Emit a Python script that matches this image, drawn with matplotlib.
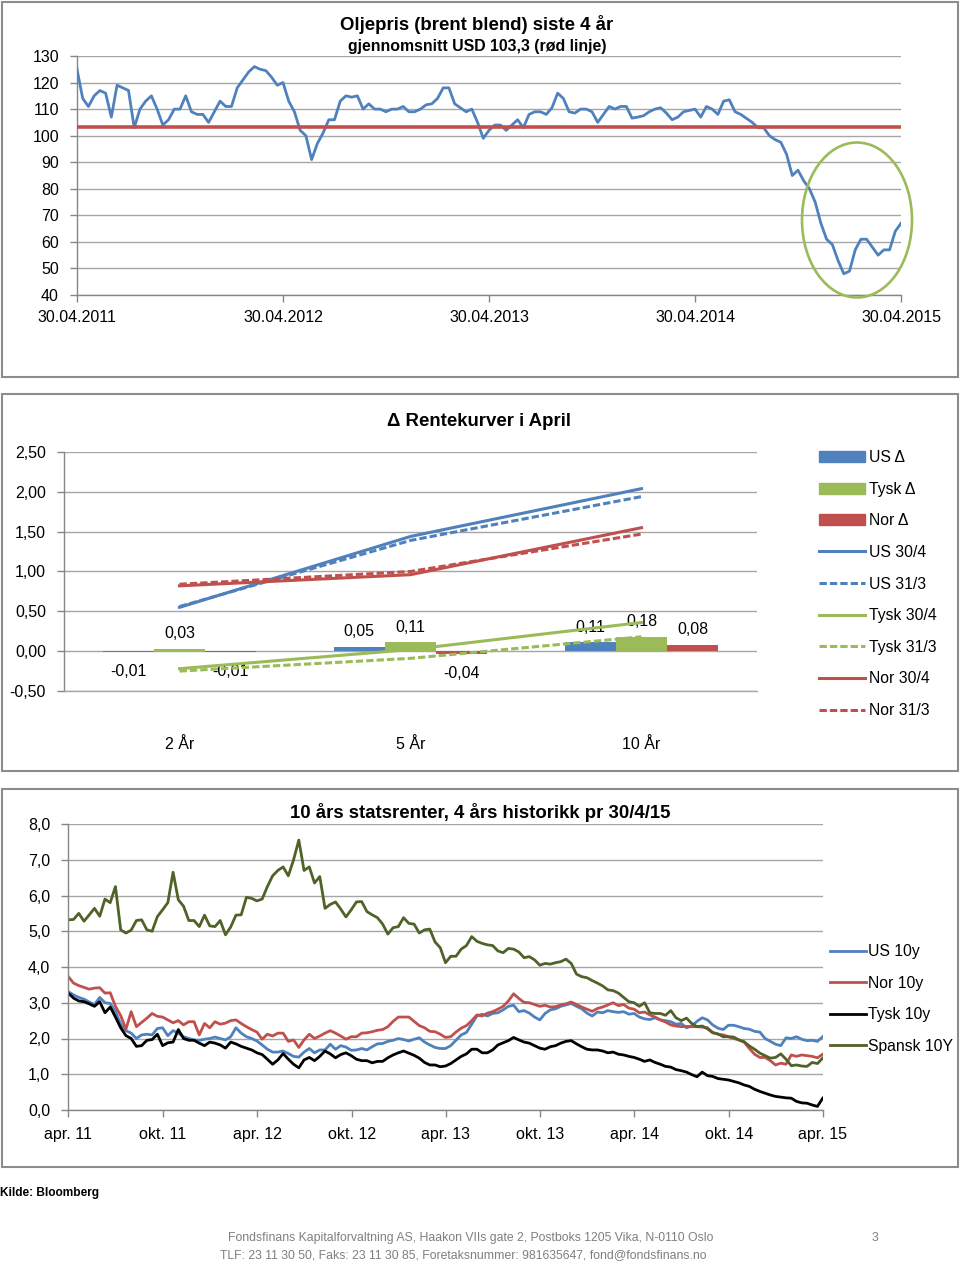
import matplotlib

matplotlib.use("Agg")
import matplotlib.pyplot as plt
import numpy as np
import pandas as pd
from matplotlib.lines import Line2D
from matplotlib.patches import Ellipse, Patch, Rectangle
from matplotlib.ticker import FuncFormatter

plt.rcParams["font.family"] = ["Liberation Sans", "DejaVu Sans"]

W, H = 960, 1265
BLUE = "#4F81BD"
RED = "#C0504D"
GREEN = "#9BBB59"
OLIVE = "#4F6228"
GRID = "#a6a6a6"
AXIS = "#868686"

START, END = "2011-04-30", "2015-04-30"

# --- oljepris (brent), ca. hver 10. dag ---
OIL = [
    125, 114, 111, 115, 117, 116, 107, 119, 118, 117, 103, 110, 113, 115, 110, 104, 106, 110,
    110, 115, 109, 108, 108, 105, 109, 113, 111, 111, 118, 121, 124, 126, 125, 124.5, 122, 119,
    120, 113, 109, 102, 100, 91, 97, 101, 106, 106, 113, 115, 114.5, 115, 110, 112, 110, 110,
    109, 110, 110, 111, 109, 109, 110, 111.6, 112, 114, 118, 118, 112, 110.5, 109, 110, 105, 99,
    102, 104, 104, 102, 104, 106, 103, 108, 109, 109, 108, 110.5, 116, 114, 109, 108.5, 110, 110,
    109, 105, 108, 111, 110, 111, 111, 106.6, 107, 107.5, 109, 110, 110.5, 108.5, 106, 107, 109, 109.5,
    110, 107, 111, 110, 108, 113, 113.5, 109, 108, 106.5, 105, 103, 103, 100, 98.5, 97.5, 93, 85,
    87, 83, 80, 75, 67, 61, 59, 53, 48, 49, 57, 61, 61, 58, 55, 57, 57, 64, 67,
]
OIL_AVG = 103.3
OIL_TICKS = ["2011-04-30", "2012-04-30", "2013-04-30", "2014-04-30", "2015-04-30"]

# --- rentekurver ---
TENORS = ["2 År", "5 År", "10 År"]
US_DELTA = [-0.01, 0.05, 0.11]
TYSK_DELTA = [0.03, 0.11, 0.18]
NOR_DELTA = [-0.01, -0.04, 0.08]
US_3004 = [0.55, 1.44, 2.04]
US_3103 = [0.56, 1.39, 1.94]
TYSK_3004 = [-0.22, 0.02, 0.36]
TYSK_3103 = [-0.25, -0.09, 0.18]
NOR_3004 = [0.82, 0.96, 1.55]
NOR_3103 = [0.84, 1.00, 1.47]

# --- 10 års statsrenter ---
RATE_TICKS = ["apr. 11", "okt. 11", "apr. 12", "okt. 12", "apr. 13",
              "okt. 13", "apr. 14", "okt. 14", "apr. 15"]
US10 = [
    3.31, 3.22, 3.15, 3.1, 3.02, 2.95, 3.15, 3.0, 2.98, 2.75, 2.4, 2.22, 2.15, 2.0, 2.1, 2.12,
    2.1, 2.28, 2.3, 2.08, 2.22, 2.15, 2.05, 2.0, 1.96, 1.95, 1.98, 2.0, 2.04, 2.0, 1.96, 2.05,
    2.3, 2.15, 2.05, 2.0, 1.93,
    1.82, 1.7, 1.62, 1.62, 1.65, 1.58, 1.5, 1.48, 1.62, 1.72, 1.6, 1.68, 1.68, 1.84, 1.7, 1.8,
    1.76, 1.67, 1.68, 1.72, 1.68, 1.77, 1.85, 1.86, 1.92, 1.95, 2.0, 1.97, 1.93, 1.98, 2.02,
    1.9, 1.82, 1.75, 1.72,
    1.72, 1.8, 1.95, 2.1, 2.17, 2.4, 2.63, 2.68, 2.63, 2.7, 2.72, 2.8, 2.9, 2.93, 2.75, 2.78,
    2.71, 2.6, 2.52, 2.7, 2.8, 2.83, 2.9, 2.94, 2.98, 2.9, 2.83, 2.71, 2.63, 2.74, 2.72, 2.78,
    2.75, 2.73, 2.75, 2.68,
    2.7, 2.6, 2.55, 2.53, 2.58, 2.52, 2.5, 2.47, 2.4, 2.42, 2.3, 2.35, 2.48, 2.58, 2.52, 2.38,
    2.29, 2.25, 2.37, 2.37, 2.33, 2.28, 2.26, 2.2, 2.18, 2.0, 1.92, 1.84, 1.8, 2.02, 2.0, 2.05,
    1.98, 1.94, 1.95, 1.92, 2.05,
]
NOR10 = [
    3.73, 3.55, 3.48, 3.43, 3.38, 3.41, 3.42, 3.27, 3.28, 2.9, 2.64, 2.26, 2.75, 2.33, 2.45, 2.57,
    2.7, 2.62, 2.6, 2.52, 2.44, 2.5, 2.38, 2.47, 2.47, 2.1, 2.42, 2.3, 2.47, 2.4, 2.43, 2.5,
    2.52, 2.42, 2.33, 2.25, 2.18,
    1.98, 2.12, 2.07, 2.15, 2.15, 1.92, 1.96, 1.75, 1.96, 2.12, 2.0, 2.07, 2.15, 2.22, 2.15, 2.07,
    1.98, 2.05, 2.05, 2.15, 2.16, 2.19, 2.23, 2.25, 2.33, 2.48, 2.6, 2.6, 2.6, 2.48, 2.36,
    2.3, 2.2, 2.19, 2.12,
    2.03, 2.05, 2.18, 2.29, 2.36, 2.5, 2.66, 2.63, 2.71, 2.75, 2.82, 2.9, 3.05, 3.25, 3.12, 3.01,
    3.0, 2.95, 2.9, 2.93, 2.88, 2.89, 2.94, 2.97, 3.02, 2.95, 2.88, 2.82, 2.76, 2.84, 2.88, 2.94,
    3.0, 2.92, 2.95, 2.85,
    2.82, 2.72, 2.74, 2.66, 2.6, 2.52, 2.46, 2.38, 2.35, 2.33, 2.34, 2.33, 2.33, 2.32, 2.3, 2.17,
    2.12, 2.1, 2.05, 2.0, 1.96, 1.9, 1.72, 1.56, 1.47, 1.47, 1.38, 1.26, 1.31, 1.28, 1.54, 1.5,
    1.54, 1.52, 1.5, 1.46, 1.56,
]
TYSK10 = [
    3.27, 3.13, 3.05, 3.03, 2.97, 2.9, 3.03, 2.72, 2.88, 2.6, 2.3, 2.08, 2.0, 1.78, 1.8, 1.95,
    1.97, 2.12, 1.8, 1.88, 1.9, 2.25, 2.0, 1.95, 1.95, 1.87, 1.8, 1.9, 1.87, 1.82, 1.73, 1.9,
    1.85, 1.78, 1.73, 1.68, 1.6,
    1.55, 1.42, 1.28, 1.4, 1.58, 1.42, 1.28, 1.18, 1.4, 1.47, 1.38, 1.5, 1.65, 1.57, 1.46, 1.55,
    1.6, 1.52, 1.42, 1.38, 1.38, 1.32, 1.36, 1.36, 1.46, 1.54, 1.6, 1.65, 1.59, 1.53, 1.45,
    1.33, 1.26, 1.26, 1.21,
    1.23, 1.3, 1.4, 1.5, 1.57, 1.7, 1.7, 1.6, 1.6, 1.68, 1.82, 1.88, 1.94, 2.03, 1.96, 1.9,
    1.87, 1.8, 1.73, 1.7, 1.77, 1.8, 1.87, 1.92, 1.94, 1.85, 1.77, 1.7, 1.68, 1.68, 1.65, 1.6,
    1.62, 1.56, 1.54, 1.5,
    1.47, 1.42, 1.36, 1.4, 1.33, 1.28, 1.22, 1.2, 1.13, 1.1, 1.06, 0.99, 0.93, 1.06, 0.96, 0.94,
    0.88, 0.86, 0.84, 0.8, 0.76, 0.7, 0.66, 0.58, 0.52, 0.47, 0.42, 0.38, 0.36, 0.34, 0.33, 0.24,
    0.2, 0.19, 0.14, 0.1, 0.33,
]
SPANSK10 = [
    5.32, 5.33, 5.5, 5.28, 5.46, 5.64, 5.42, 5.9, 5.8, 6.25, 5.04, 4.95, 5.03, 5.3, 5.32, 5.04,
    5.0, 5.41, 5.6, 5.8, 6.65, 5.88, 5.7, 5.3, 5.3, 5.13, 5.45, 5.15, 5.13, 5.3, 4.9, 5.12,
    5.45, 5.46, 5.95, 5.92, 5.85,
    5.9, 6.25, 6.55, 6.7, 6.8, 6.55, 7.0, 7.55, 6.7, 6.8, 6.35, 6.53, 5.64, 5.75, 5.82, 5.62,
    5.4, 5.6, 5.82, 5.83, 5.55, 5.46, 5.38, 5.2, 4.92, 5.1, 5.13, 5.38, 5.22, 5.2, 4.95,
    5.04, 5.06, 4.7, 4.54,
    4.12, 4.3, 4.3, 4.5, 4.6, 4.85, 4.72, 4.66, 4.62, 4.6, 4.45, 4.4, 4.52, 4.5, 4.42, 4.26,
    4.29, 4.2, 4.05, 4.1, 4.08, 4.12, 4.15, 4.22, 4.1, 3.8, 3.73, 3.7, 3.62, 3.55, 3.47, 3.36,
    3.34, 3.27, 3.15, 3.03,
    3.0, 2.9, 3.0, 2.72, 2.7, 2.7, 2.65, 2.78, 2.58, 2.5, 2.57, 2.42, 2.33, 2.35, 2.27, 2.16,
    2.13, 2.05, 2.05, 2.04, 1.96, 1.91, 1.79, 1.7, 1.59, 1.52, 1.45, 1.47, 1.57, 1.42, 1.24, 1.26,
    1.23, 1.22, 1.33, 1.3, 1.45,
]


def fig_rect(left, top, right, bottom):
    return [left / W, 1 - bottom / H, (right - left) / W, (bottom - top) / H]


def comma_fmt(decimals):
    return FuncFormatter(lambda v, _: f"{v:.{decimals}f}".replace(".", ","))


def style_axes(ax, labelsize=11.5):
    for side in ("top", "right"):
        ax.spines[side].set_visible(False)
    for side in ("left", "bottom"):
        ax.spines[side].set_color(AXIS)
        ax.spines[side].set_linewidth(1)
    ax.grid(axis="y", color=GRID, lw=1)
    ax.set_axisbelow(True)
    ax.tick_params(direction="out", length=5, color=AXIS, labelsize=labelsize, width=1)


fig = plt.figure(figsize=(W / 100, H / 100), dpi=100)

# panel frames
for top, bottom in [(2, 377), (394, 771), (789, 1167)]:
    fig.patches.append(Rectangle((2 / W, 1 - bottom / H), 956 / W, (bottom - top) / H,
                                 transform=fig.transFigure, fill=False,
                                 ec="#8c8c8c", lw=1.5))

# ---------------- oljepris ----------------
ax1 = fig.add_axes(fig_rect(77, 56, 901, 295))
oil_dates = pd.date_range(START, END, periods=len(OIL))
ax1.plot(oil_dates, OIL, color=BLUE, lw=2, zorder=3)
ax1.axhline(OIL_AVG, color=RED, lw=2.6, zorder=4)
ax1.set_ylim(40, 130)
ax1.set_yticks(range(40, 131, 10))
ax1.set_xlim(pd.Timestamp(START), pd.Timestamp(END))
tick_dates = pd.to_datetime(OIL_TICKS)
ax1.set_xticks(tick_dates)
ax1.set_xticklabels([d.strftime("%d.%m.%Y") for d in tick_dates])
style_axes(ax1)
ax1.tick_params(axis="x", pad=6)
ax1.tick_params(axis="y", pad=8)
ax1.add_patch(Ellipse((0.9466, 0.3138), 0.1335, 0.6485, transform=ax1.transAxes,
                      fill=False, ec=GREEN, lw=1.9, clip_on=False, zorder=5))
fig.text(477 / W, 1 - 24 / H, "Oljepris (brent blend) siste 4 år", ha="center",
         va="center", fontsize=13.4, fontweight="bold")
fig.text(477 / W, 1 - 47 / H, "gjennomsnitt USD 103,3 (rød linje)", ha="center",
         va="center", fontsize=11.4, fontweight="bold")

# ---------------- rentekurver ----------------
ax2 = fig.add_axes(fig_rect(64, 452, 757, 691))
x = np.arange(len(TENORS))
bw = 0.222
dash = (0, (2.4, 1.0))
bar_sets = [(US_DELTA, BLUE, -bw), (TYSK_DELTA, GREEN, 0), (NOR_DELTA, RED, bw)]
for vals, col, off in bar_sets:
    bars = ax2.bar(x + off, vals, bw, color=col, zorder=2)
    for rect, v in zip(bars, vals):
        dy = 11 if v >= 0 else -14
        ax2.annotate(f"{v:.2f}".replace(".", ","), (rect.get_x() + rect.get_width() / 2, v),
                     xytext=(0, dy), textcoords="offset points", ha="center",
                     va="center", fontsize=11.5)
ax2.plot(x, US_3004, color=BLUE, lw=2.2, zorder=3)
ax2.plot(x, US_3103, color=BLUE, lw=2.2, ls=dash, zorder=3)
ax2.plot(x, TYSK_3004, color=GREEN, lw=2.2, zorder=3)
ax2.plot(x, TYSK_3103, color=GREEN, lw=2.2, ls=dash, zorder=3)
ax2.plot(x, NOR_3004, color=RED, lw=2.2, zorder=3)
ax2.plot(x, NOR_3103, color=RED, lw=2.2, ls=dash, zorder=3)
ax2.set_xlim(-0.5, 2.5)
ax2.set_ylim(-0.5, 2.5)
ax2.set_yticks(np.arange(-0.5, 2.51, 0.5))
ax2.yaxis.set_major_formatter(comma_fmt(2))
ax2.set_xticks(x)
ax2.set_xticklabels(TENORS)
style_axes(ax2)
ax2.spines["bottom"].set_color(GRID)
ax2.tick_params(axis="x", length=0, pad=33)
ax2.tick_params(axis="y", pad=8)
fig.text(479 / W, 1 - 421 / H, "Δ Rentekurver i April", ha="center", va="center",
         fontsize=13.4, fontweight="bold")
handles2 = [
    Patch(color=BLUE, label="US Δ"),
    Patch(color=GREEN, label="Tysk Δ"),
    Patch(color=RED, label="Nor Δ"),
    Line2D([], [], color=BLUE, lw=2.2, label="US 30/4"),
    Line2D([], [], color=BLUE, lw=2.2, ls=dash, label="US 31/3"),
    Line2D([], [], color=GREEN, lw=2.2, label="Tysk 30/4"),
    Line2D([], [], color=GREEN, lw=2.2, ls=dash, label="Tysk 31/3"),
    Line2D([], [], color=RED, lw=2.2, label="Nor 30/4"),
    Line2D([], [], color=RED, lw=2.2, ls=dash, label="Nor 31/3"),
]
fig.legend(handles=handles2, loc="upper left", bbox_to_anchor=(819 / W, 1 - 450 / H),
           frameon=False, fontsize=11.3, handlelength=2.9, handletextpad=0.3,
           labelspacing=1.06, borderpad=0, borderaxespad=0)

# ---------------- 10 års statsrenter ----------------
ax3 = fig.add_axes(fig_rect(68.3, 824, 822.7, 1110))
rate_dates = pd.date_range(START, END, periods=len(US10))
ax3.plot(rate_dates, US10, color=BLUE, lw=2, label="US 10y")
ax3.plot(rate_dates, NOR10, color=RED, lw=2, label="Nor 10y")
ax3.plot(rate_dates, TYSK10, color="black", lw=2, label="Tysk 10y")
ax3.plot(rate_dates, SPANSK10, color=OLIVE, lw=2, label="Spansk 10Y")
ax3.set_ylim(0, 8)
ax3.set_yticks(range(0, 9))
ax3.yaxis.set_major_formatter(comma_fmt(1))
ax3.set_xlim(pd.Timestamp(START), pd.Timestamp(END))
ax3.set_xticks([pd.Timestamp(START) + pd.DateOffset(months=6 * i)
                for i in range(len(RATE_TICKS))])
ax3.set_xticklabels(RATE_TICKS)
style_axes(ax3)
ax3.tick_params(axis="x", pad=7)
ax3.tick_params(axis="y", pad=8)
fig.text(480 / W, 1 - 812 / H, "10 års statsrenter, 4 års historikk pr 30/4/15",
         ha="center", va="center", fontsize=13.4, fontweight="bold")
fig.legend(handles=ax3.get_lines(), loc="upper left", bbox_to_anchor=(830 / W, 1 - 944 / H),
           frameon=False, fontsize=11.3, handlelength=2.3, handletextpad=0.15,
           labelspacing=1.06, borderpad=0, borderaxespad=0)

# ---------------- footer ----------------
fig.text(0.5 / W, 1 - 1193 / H, "Kilde: Bloomberg", ha="left", va="center",
         fontsize=8.6, fontweight="bold")
fig.text(471 / W, 1 - 1238 / H,
         "Fondsfinans Kapitalforvaltning AS, Haakon VIIs gate 2, Postboks 1205 Vika, N-0110 Oslo",
         ha="center", va="center", fontsize=8.8, color="#7f7f7f")
fig.text(463 / W, 1 - 1255 / H,
         "TLF: 23 11 30 50, Faks: 23 11 30 85, Foretaksnummer: 981635647, fond@fondsfinans.no",
         ha="center", va="center", fontsize=8.8, color="#7f7f7f")
fig.text(875 / W, 1 - 1238 / H, "3", ha="center", va="center", fontsize=8.8, color="#7f7f7f")

fig.savefig("out.png", dpi=100, facecolor="white")
